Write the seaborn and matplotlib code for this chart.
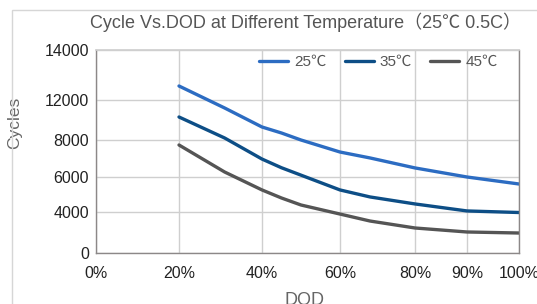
import numpy as np
import pandas as pd
import matplotlib
matplotlib.use("Agg")
import matplotlib.pyplot as plt
from matplotlib.patches import Rectangle
import seaborn as sns

# values
dod = [20, 31, 40, 45, 50, 60, 68, 80, 90, 100]
cycles_25 = [12560, 11200, 9300, 8700, 8000, 7350, 7030, 6490, 6000, 5600]
cycles_35 = [10300, 8200, 6970, 6500, 6100, 5260, 4860, 4460, 4060, 3950]
cycles_45 = [7730, 6270, 5260, 4800, 4400, 3800, 3120, 2440, 2050, 1950]
temps = ["25℃", "35℃", "45℃"]
colors = ["#2c6cc2", "#0d4e86", "#555555"]

x_ticks = [0, 20, 40, 60, 80, 90, 100]
x_labels = ["0%", "20%", "40%", "60%", "80%", "90%", "100%"]
y_ticks = [0, 4000, 6000, 8000, 12000, 14000]
y_labels = ["0", "4000", "6000", "8000", "12000", "14000"]

# the original axes are not evenly spaced, so the scales are piecewise
x_pos = [0, 83, 166, 244, 319, 371, 423]
y_pos = [0, 41, 76, 113, 153, 203]


def x_fwd(v):
    return np.interp(v, x_ticks, x_pos)


def x_inv(v):
    return np.interp(v, x_pos, x_ticks)


def y_fwd(v):
    return np.interp(v, y_ticks, y_pos)


def y_inv(v):
    return np.interp(v, y_pos, y_ticks)


df = pd.DataFrame({
    "DOD": dod * 3,
    "Cycles": cycles_25 + cycles_35 + cycles_45,
    "Temp": [t for t in temps for _ in dod],
})

sns.set_theme(style="whitegrid")
fam = ["Liberation Sans", "Noto Sans CJK SC", "DejaVu Sans"]
plt.rcParams["font.family"] = fam

fig = plt.figure(figsize=(5.37, 3.04), dpi=100)
ax = fig.add_axes([96 / 537, 1 - 253 / 304, 423 / 537, 203 / 304])

sns.lineplot(data=df, x="DOD", y="Cycles", hue="Temp",
             palette=dict(zip(temps, colors)), linewidth=2.4, ax=ax)

ax.set_xscale("function", functions=(x_fwd, x_inv))
ax.set_yscale("function", functions=(y_fwd, y_inv))
ax.set_xlim(0, 100)
ax.set_ylim(0, 14000)
ax.set_xticks(x_ticks)
ax.set_xticklabels(x_labels)
ax.set_yticks(y_ticks)
ax.set_yticklabels(y_labels)
ax.minorticks_off()
ax.tick_params(axis="x", length=0, pad=9, labelsize=11.5, labelcolor="#222222")
ax.tick_params(axis="y", length=0, pad=5, labelsize=11.5, labelcolor="#222222")

ax.grid(True, color="#cfcfcf", linewidth=1)
for side in ["left", "bottom", "right"]:
    ax.spines[side].set_color("#8c8888")
    ax.spines[side].set_linewidth(1)
ax.spines["top"].set_color("#cfcfcf")

ax.set_xlabel("DOD", fontsize=13, color="#666666")
ax.set_ylabel("Cycles", fontsize=12.5, color="#666666")
ax.xaxis.set_label_coords(0.494, -0.19)
ax.xaxis.label.set_va("top")
ax.yaxis.set_label_coords(-0.175, 0.64)

leg = ax.legend(ncol=3, frameon=False, loc="center left",
                bbox_to_anchor=(0.385, 0.94), borderpad=0, borderaxespad=0,
                handlelength=1.9, handletextpad=0.4, columnspacing=1.2,
                prop={"family": fam, "size": 11})
for t in leg.get_texts():
    t.set_color("#555555")

fig.text(306 / 537, 1 - 22 / 304,
         "Cycle Vs.DOD at Different Temperature（25℃ 0.5C）",
         ha="center", va="center", fontsize=13, color="#555555", family=fam)

fig.patches.append(Rectangle((12 / 537, -0.2), 1.2, 1 - 10 / 304 + 0.2,
                             transform=fig.transFigure, fill=False,
                             edgecolor="#d6d6d6", linewidth=1))

fig.savefig("out.png", dpi=100)
